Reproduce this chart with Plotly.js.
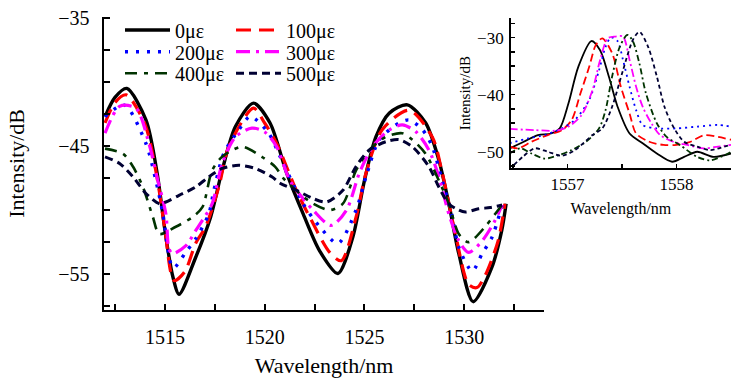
<!DOCTYPE html>
<html>
<head>
<meta charset="utf-8">
<script src="https://cdn.plot.ly/plotly-3.0.1.min.js"></script>
<style>html,body{margin:0;padding:0;background:#fff}#chart{width:731px;height:378px}</style>
</head>
<body>
<div id="chart"></div>
<script>
// ---- main chart data (wavelength nm, intensity dB) ----
const labels = ["0\u03bc\u03b5","100\u03bc\u03b5","200\u03bc\u03b5","300\u03bc\u03b5","400\u03bc\u03b5","500\u03bc\u03b5"];

const x0 = [1512.0,1512.5,1513.09,1514.05,1514.6,1515.05,1515.4,1515.71,1516.54,1517.29,1517.87,1518.53,1519.44,1520.27,1521.1,1521.93,1522.76,1523.67,1524.42,1525.0,1525.58,1526.24,1527.15,1528.07,1528.73,1529.23,1529.73,1530.45,1531.38,1531.88,1532.1];
const y0 = [-42.7,-41.2,-40.5,-42.96,-47.0,-52.1,-55.2,-56.57,-53.7,-50.55,-46.9,-43.5,-41.65,-43.2,-47.1,-50.3,-53.2,-54.95,-52.1,-47.7,-44.27,-42.43,-41.78,-43.2,-46.1,-49.5,-53.4,-57.15,-54.5,-51.6,-49.5];

const x1 = [1512.0,1512.5,1513.06,1514.0,1514.6,1515.0,1515.46,1516.0,1516.54,1517.04,1517.7,1518.2,1519.44,1520.0,1520.6,1521.6,1522.26,1523.26,1523.84,1524.58,1525.08,1525.9,1527.24,1528.4,1528.9,1529.56,1530.22,1530.64,1531.05,1531.7,1532.04];
const y1 = [-43.2,-41.6,-41.0,-43.3,-47.4,-51.5,-55.5,-54.8,-52.6,-51.3,-48.2,-45.05,-42.04,-43.2,-44.8,-48.5,-50.55,-53.3,-53.95,-50.55,-47.1,-43.7,-42.2,-44.3,-47.1,-51.86,-55.8,-56.05,-55.1,-52.4,-49.5];

const x2 = [1512.0,1512.97,1514.05,1514.55,1514.9,1515.3,1515.46,1516.04,1516.54,1517.2,1517.45,1517.95,1518.7,1519.28,1520.2,1520.77,1521.93,1522.76,1523.67,1524.58,1525.08,1525.75,1526.74,1527.24,1527.9,1528.4,1528.9,1529.4,1529.73,1530.4,1530.9,1531.4,1531.9];
const y2 = [-42.7,-41.8,-44.8,-47.7,-50.3,-54.2,-54.5,-53.3,-52.25,-50.3,-48.5,-45.6,-43.75,-42.7,-44.0,-45.8,-49.5,-51.3,-52.6,-50.0,-47.4,-44.5,-43.2,-42.96,-43.7,-45.05,-47.7,-50.5,-52.9,-54.75,-53.4,-52.1,-49.6];

const x3 = [1512.0,1512.73,1513.55,1514.2,1514.6,1515.05,1515.2,1515.38,1516.04,1516.54,1516.88,1517.37,1517.87,1518.53,1519.36,1520.0,1520.6,1521.27,1522.43,1523.33,1524.1,1524.75,1525.41,1526.24,1526.9,1527.57,1528.23,1528.73,1529.23,1529.73,1530.22,1530.9,1531.55,1531.9];
const y3 = [-44.0,-41.9,-42.04,-44.8,-47.4,-50.3,-53.0,-53.4,-52.8,-51.6,-50.8,-49.5,-46.4,-44.3,-43.6,-43.9,-45.05,-47.7,-50.0,-51.2,-50.0,-47.1,-45.05,-43.74,-43.35,-43.87,-45.3,-47.4,-50.3,-52.4,-53.3,-52.4,-50.8,-49.6];

const x4 = [1512.0,1512.9,1513.4,1513.9,1514.4,1514.72,1515.55,1516.38,1516.88,1517.37,1517.87,1518.87,1519.86,1520.52,1520.93,1521.6,1522.43,1523.26,1523.92,1524.58,1525.25,1526.08,1526.9,1527.4,1528.07,1528.73,1529.23,1529.73,1530.22,1531.05,1531.55,1531.9];
const y4 = [-45.2,-45.6,-46.6,-48.2,-50.55,-51.86,-51.3,-50.55,-49.77,-46.9,-45.84,-45.05,-45.84,-46.6,-47.5,-48.5,-49.5,-50.0,-49.5,-46.9,-45.3,-44.27,-44.0,-44.5,-45.6,-47.7,-49.5,-51.86,-52.5,-51.3,-50.3,-49.6];

const x5 = [1512.0,1512.73,1513.4,1514.05,1514.72,1515.05,1515.71,1516.54,1517.2,1517.87,1518.7,1519.53,1520.36,1520.77,1521.6,1522.43,1523.1,1523.92,1524.58,1525.25,1526.08,1526.74,1527.4,1528.23,1528.73,1529.23,1529.73,1530.06,1530.72,1531.3,1531.9];
const y5 = [-45.84,-46.36,-47.4,-48.7,-49.5,-49.37,-48.85,-48.2,-47.4,-46.75,-46.5,-46.75,-47.4,-47.9,-48.45,-49.1,-49.37,-48.45,-46.6,-45.3,-44.66,-44.5,-45.05,-46.6,-48.2,-49.5,-50.0,-50.15,-49.9,-49.8,-49.6];

// ---- inset data ----
const ix0 = [1556.47,1556.6,1556.73,1556.85,1556.93,1557.01,1557.1,1557.22,1557.3,1557.38,1557.46,1557.57,1557.69,1557.82,1557.96,1558.07,1558.19,1558.34,1558.5];
const iy0 = [-49.4,-48.25,-47.07,-46.8,-45.9,-41.5,-35.1,-30.58,-32.2,-36.8,-42.1,-46.8,-48.5,-50.3,-51.75,-50.9,-50.0,-50.9,-50.3];
const ix1 = [1556.47,1556.55,1556.67,1556.82,1556.95,1557.04,1557.12,1557.2,1557.26,1557.32,1557.41,1557.49,1557.57,1557.63,1557.75,1557.88,1558.0,1558.13,1558.25,1558.38,1558.5];
const iy1 = [-49.1,-49.4,-48.25,-47.07,-46.2,-44.4,-39.75,-35.1,-31.3,-30.1,-32.7,-38.6,-43.3,-46.8,-48.25,-48.8,-48.8,-48.25,-47.1,-47.4,-47.9];
const ix2 = [1556.47,1556.64,1556.79,1556.95,1557.07,1557.2,1557.29,1557.35,1557.4,1557.46,1557.51,1557.57,1557.63,1557.69,1557.82,1558.0,1558.19,1558.38,1558.5];
const iy2 = [-48.5,-47.65,-47.07,-45.9,-44.4,-40.9,-35.7,-31.6,-29.94,-30.6,-33.9,-38.6,-42.7,-45.3,-45.9,-45.9,-45.6,-45.3,-45.6];
const ix3 = [1556.47,1556.7,1556.89,1557.01,1557.13,1557.23,1557.3,1557.37,1557.44,1557.51,1557.57,1557.63,1557.69,1557.77,1557.85,1557.97,1558.1,1558.25,1558.38,1558.5];
const iy3 = [-46.0,-46.2,-46.3,-45.6,-43.56,-39.2,-33.9,-30.1,-29.8,-29.8,-33.9,-38.6,-42.1,-45.0,-47.07,-48.25,-48.8,-49.4,-49.1,-48.8];
const ix4 = [1556.47,1556.57,1556.67,1556.79,1556.92,1557.04,1557.17,1557.29,1557.35,1557.41,1557.48,1557.55,1557.6,1557.66,1557.72,1557.82,1557.91,1558.03,1558.19,1558.31,1558.44,1558.5];
const iy4 = [-50.3,-49.4,-50.3,-51.2,-50.6,-49.7,-48.25,-45.9,-42.7,-36.8,-31.6,-29.5,-30.6,-34.5,-39.75,-45.0,-47.4,-48.8,-50.9,-51.5,-50.6,-50.0];
const ix5 = [1556.51,1556.59,1556.7,1556.82,1556.95,1557.07,1557.23,1557.32,1557.41,1557.51,1557.6,1557.66,1557.74,1557.82,1557.89,1557.97,1558.07,1558.19,1558.31,1558.44,1558.5];
const iy5 = [-52.3,-50.9,-49.4,-50.0,-50.7,-49.7,-47.07,-45.9,-42.1,-35.7,-30.4,-28.95,-31.6,-36.8,-42.1,-45.6,-48.25,-49.1,-49.7,-49.1,-48.8];

const mainTickVals = [1515,1520,1525,1530];
const mainYTickVals = [-35,-45,-55];
const insetXTickVals = [1557,1558];
const insetYTickVals = [-30,-40,-50];

const colors = ["#000000","#ff0000","#0000ff","#ff00ff","#003300","#000033"];
const dashes = ["solid","15px,8px","3px,8px","14px,6px,3px,6px","12px,7px,4px,7px","8px,5px"];
const insetDashes = ["solid","8px,4px","2px,4px","8px,3px,2px,3px","6px,3px,2px,3px","4px,3px"];
const widths = [3.4,3.2,3.4,3.2,2.6,3.0];

const mx = [x0,x1,x2,x3,x4,x5], my = [y0,y1,y2,y3,y4,y5];
const ix = [ix0,ix1,ix2,ix3,ix4,ix5], iy = [iy0,iy1,iy2,iy3,iy4,iy5];
const legendIds = ["legend","legend2","legend3","legend4","legend5","legend6"];

const traces = [];
for (let i = 0; i < 6; i++) {
  traces.push({
    x: mx[i], y: my[i], type: "scatter", mode: "lines", name: labels[i],
    line: {color: colors[i], dash: dashes[i], width: widths[i], shape: "spline", smoothing: 0.8},
    legend: legendIds[i],
    xaxis: "x", yaxis: "y"
  });
}
for (let i = 0; i < 6; i++) {
  traces.push({
    x: ix[i], y: iy[i], type: "scatter", mode: "lines", name: labels[i], showlegend: false,
    line: {color: colors[i], dash: insetDashes[i], width: 1.8, shape: "spline", smoothing: 0.8},
    xaxis: "x2", yaxis: "y2"
  });
}

const serif = "Liberation Serif";
const W = 731, H = 378;
function legendAt(px, py) {
  return {
    x: px / W, y: 1 - py / H, xanchor: "left", yanchor: "middle", bgcolor: "rgba(0,0,0,0)",
    font: {size: 20, family: serif}, itemwidth: 45, borderwidth: 0, orientation: "v"
  };
}
const layout = {
  width: W, height: H,
  margin: {l: 0, r: 0, t: 0, b: 0},
  paper_bgcolor: "#fff", plot_bgcolor: "rgba(0,0,0,0)",
  font: {family: serif, color: "#000"},
  showlegend: true,
  xaxis: {
    domain: [0.1423, 0.7442], range: [1511.95, 1534.0], anchor: "y",
    showline: true, linecolor: "#000", linewidth: 2.5, mirror: false,
    showgrid: false, zeroline: false,
    tickmode: "array", tickvals: mainTickVals, ticks: "inside", ticklen: 6, tickwidth: 2, tickcolor: "#000",
    minor: {tickmode: "linear", tick0: 1512.5, dtick: 2.5, ticks: "inside", ticklen: 6, tickwidth: 2, tickcolor: "#000", showgrid: false},
    tickfont: {size: 20, family: serif},
    ticklabelstandoff: 8,
    title: {text: "Wavelength/nm", font: {size: 22, family: serif}, standoff: 17}
  },
  yaxis: {
    domain: [0.1799, 0.9558], range: [-57.8, -34.9], anchor: "x",
    showline: true, linecolor: "#000", linewidth: 2.5, mirror: false,
    showgrid: false, zeroline: false,
    tickmode: "array", tickvals: mainYTickVals, ticks: "inside", ticklen: 6, tickwidth: 2, tickcolor: "#000",
    minor: {tickmode: "linear", tick0: -35, dtick: 2.5, ticks: "inside", ticklen: 6, tickwidth: 2, tickcolor: "#000", showgrid: false},
    tickfont: {size: 20, family: serif},
    ticklabelstandoff: 8,
    title: {text: "Intensity/dB", font: {size: 22, family: serif}, standoff: 28}
  },
  xaxis2: {
    domain: [0.6986, 1.0], range: [1556.48, 1558.5], anchor: "y2",
    showline: true, linecolor: "#000", linewidth: 1.6,
    showgrid: false, zeroline: false,
    tickmode: "array", tickvals: insetXTickVals, ticks: "inside", ticklen: 4, tickwidth: 1.5, tickcolor: "#000",
    minor: {tickmode: "linear", tick0: 1556.5, dtick: 0.5, ticks: "inside", ticklen: 4, tickwidth: 1.5, tickcolor: "#000", showgrid: false},
    tickfont: {size: 17, family: serif},
    title: {text: "Wavelength/nm", font: {size: 16, family: serif}, standoff: 9}
  },
  yaxis2: {
    domain: [0.5548, 0.9524], range: [-52.9, -26.54], anchor: "x2",
    showline: true, linecolor: "#000", linewidth: 1.6,
    showgrid: false, zeroline: false,
    tickmode: "array", tickvals: insetYTickVals, ticks: "inside", ticklen: 4, tickwidth: 1.5, tickcolor: "#000",
    minor: {tickmode: "linear", tick0: -30, dtick: 2.5, ticks: "inside", ticklen: 4, tickwidth: 1.5, tickcolor: "#000", showgrid: false},
    tickfont: {size: 17, family: serif},
    ticklabelstandoff: 2,
    title: {text: "Intensity/dB", font: {size: 15, family: serif}, standoff: 3}
  },
  legend: legendAt(120, 30),
  legend2: legendAt(231, 30),
  legend3: legendAt(120, 51.7),
  legend4: legendAt(231, 51.7),
  legend5: legendAt(120, 73.3),
  legend6: legendAt(231, 73.3)
};

Plotly.newPlot("chart", traces, layout, {displayModeBar: false, staticPlot: true});
</script>
</body>
</html>
